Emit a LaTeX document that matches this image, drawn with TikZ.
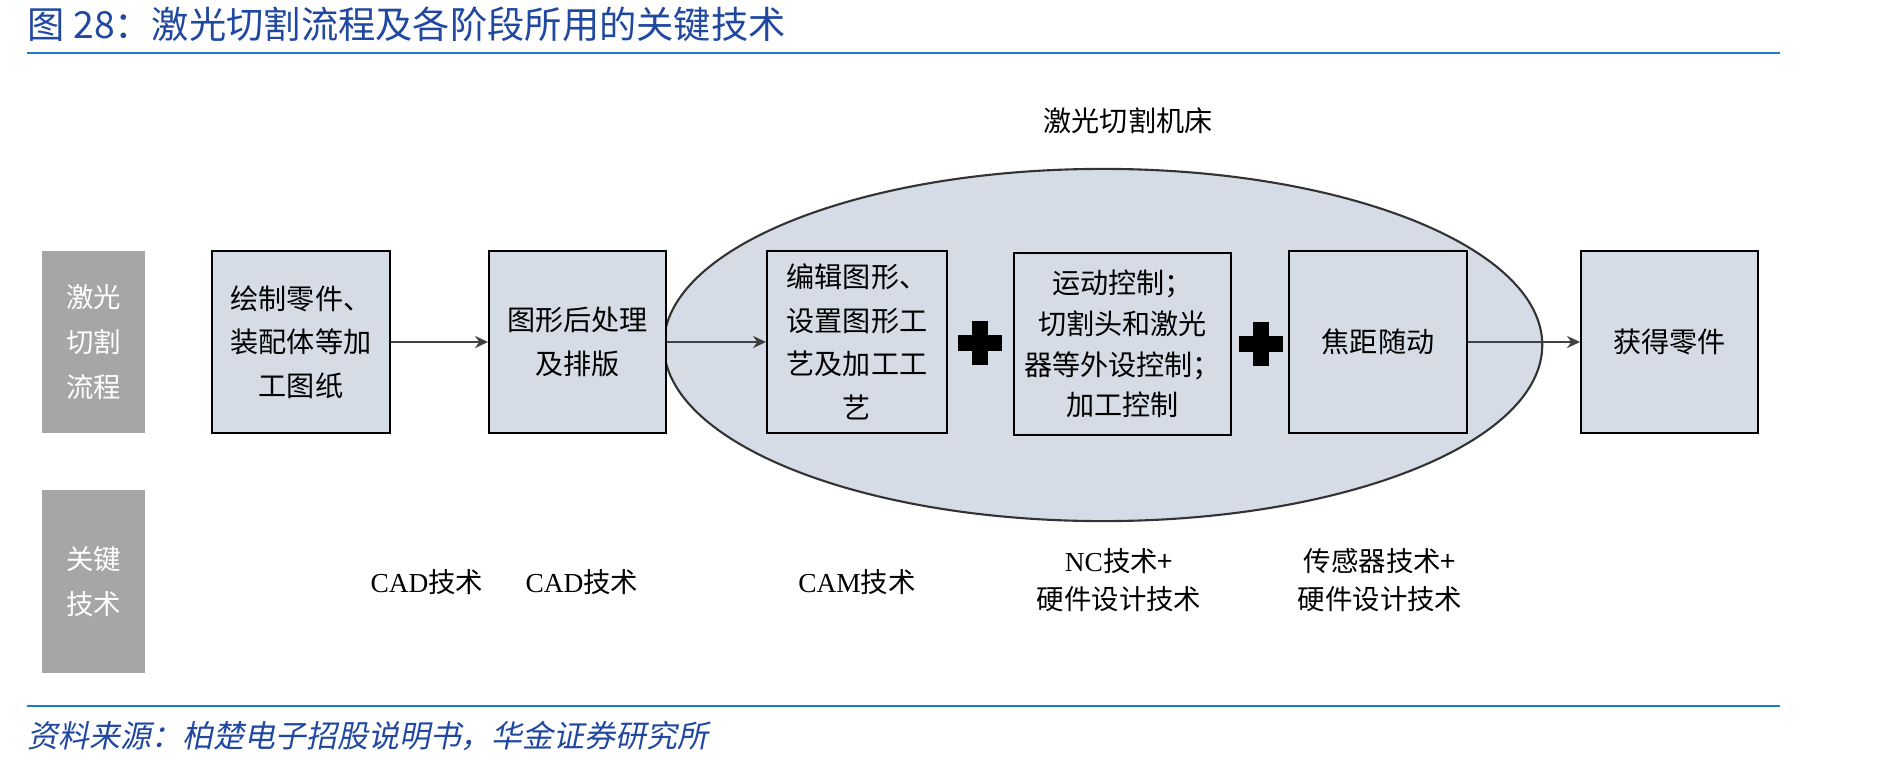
\documentclass[tikz,border=0pt]{standalone}
\usepackage{fontspec}
\setmainfont{Liberation Serif}
\newfontfamily\cjk{Noto Sans CJK SC}
\newfontfamily\cjkslant[FakeSlant=0.2]{Noto Sans CJK SC}
\usetikzlibrary{arrows.meta,shapes.geometric}
\definecolor{boxfill}{RGB}{214,220,229}
\definecolor{sidegray}{RGB}{166,166,166}
\definecolor{headblue}{RGB}{32,72,160}
\definecolor{ruleblue}{RGB}{30,124,200}

\begin{document}
\begin{tikzpicture}[x=0.01cm,y=-0.01cm,>={Stealth[length=1.3mm,width=1.2mm]},
  stepbox/.style={draw=black,line width=0.5pt,fill=boxfill,minimum width=1.78cm,minimum height=1.82cm,inner sep=1pt,align=center,font=\cjk\fontsize{8}{12.4}\selectfont},
  sidebox/.style={fill=sidegray,minimum width=1.03cm,minimum height=1.82cm,inner sep=0pt,align=center,text=white,font=\cjk\fontsize{7.8}{12.8}\selectfont},
  techlabel/.style={align=center,inner sep=0pt,font=\cjk\fontsize{7.8}{11}\selectfont},
  flow/.style={->,draw=black!75,line width=0.8pt}]
  \useasboundingbox (0,0) rectangle (1901,767);
  \node[anchor=west,inner sep=0pt,text=headblue,font=\cjk\fontsize{10.6}{12}\selectfont] (title) at (27,24) {图 28：激光切割流程及各阶段所用的关键技术};
  \coordinate (rule1l) at (27,53);
  \coordinate (rule1r) at (1780,53);
  \draw[ruleblue,line width=0.6pt] (rule1l) -- (rule1r);
  \node[ellipse,draw=black!80,line width=0.6pt,fill=boxfill,minimum width=8.78cm,minimum height=3.52cm,inner sep=0pt] (machine) at (1103,345) {};
  \node[inner sep=0pt,font=\cjk\fontsize{8}{10}\selectfont] (machinelabel) at (1128,121) {激光切割机床};
  \node[sidebox] (flowside) at (93.5,342) {激光\\切割\\流程};
  \node[sidebox,minimum height=1.83cm] (techside) at (93.5,581.5) {关键\\技术};
  \node[stepbox] (draft) at (301,342) {绘制零件、\\装配体等加\\工图纸};
  \node[stepbox,minimum width=1.77cm] (nesting) at (577.5,342) {图形后处理\\及排版};
  \node[stepbox,minimum width=1.80cm] (edit) at (857,342) {编辑图形、\\设置图形工\\艺及加工工\\艺};
  \node[stepbox,minimum width=2.17cm,font=\cjk\fontsize{8}{11.6}\selectfont] (motion) at (1122.5,344) {运动控制；\\切割头和激光\\器等外设控制；\\加工控制};
  \node[stepbox] (focus) at (1378,342) {焦距随动};
  \node[stepbox,minimum width=1.77cm] (part) at (1669.5,342) {获得零件};
  \draw[flow] (draft) -- (nesting);
  \draw[flow] (nesting) -- (edit);
  \draw[flow] (focus) -- (part);
  \foreach \px/\py in {980/343,1261/344}{
    \fill (\px-22,\py-8) rectangle (\px+22,\py+8);
    \fill (\px-8,\py-22) rectangle (\px+8,\py+22);
  }
  \node[techlabel] (cad1) at (427,582) {\textrm{CAD}技术};
  \node[techlabel] (cad2) at (582,582) {\textrm{CAD}技术};
  \node[techlabel] (cam) at (857,582) {\textrm{CAM}技术};
  \node[techlabel] (nc) at (1119,580) {\textrm{NC}技术+\\硬件设计技术};
  \node[techlabel] (sensor) at (1380,580) {传感器技术+\\硬件设计技术};
  \coordinate (rule2l) at (27,706);
  \coordinate (rule2r) at (1780,706);
  \draw[ruleblue,line width=0.6pt] (rule2l) -- (rule2r);
  \node[anchor=west,inner sep=0pt,text=headblue,font=\cjkslant\fontsize{8.8}{11}\selectfont] (source) at (27,736) {资料来源：柏楚电子招股说明书，华金证券研究所};
\end{tikzpicture}
\end{document}
